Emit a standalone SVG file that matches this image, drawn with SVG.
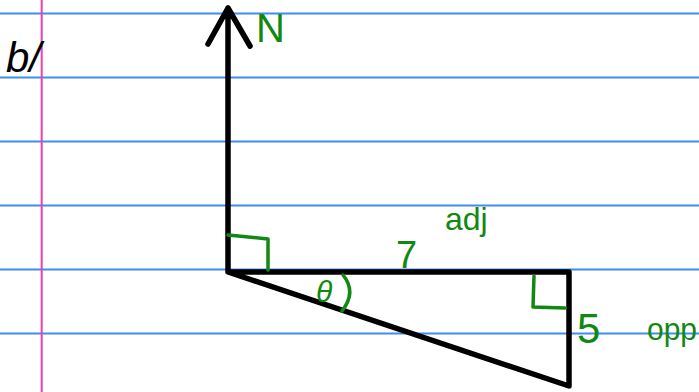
<svg xmlns="http://www.w3.org/2000/svg" width="699" height="392" viewBox="0 0 699 392">
<style>
.rule{stroke:#3d8ef0;stroke-width:2}
.ink{fill:none;stroke:#000;stroke-width:5.5;stroke-linecap:round;stroke-linejoin:round}
.gmark{fill:none;stroke:#118811;stroke-width:3.5;stroke-linecap:round;stroke-linejoin:round}
.g{fill:#118811;font-family:"Liberation Sans",sans-serif}
.k{fill:#000;font-family:"Liberation Sans",sans-serif}
</style>
<rect width="699" height="392" fill="#fff"/>
<g id="paper">
<line class="rule" x1="0" y1="13.5" x2="699" y2="13.5"/>
<line class="rule" x1="0" y1="77.5" x2="699" y2="77.5"/>
<line class="rule" x1="0" y1="141.5" x2="699" y2="141.5"/>
<line class="rule" x1="0" y1="205.5" x2="699" y2="205.5"/>
<line class="rule" x1="0" y1="269.5" x2="699" y2="269.5"/>
<line class="rule" x1="0" y1="333.5" x2="699" y2="333.5"/>
<line x1="41.7" y1="0" x2="41.7" y2="392" stroke="#f040b0" stroke-width="2"/>
</g>
<g id="label-b">
<text class="k" x="6" y="72" font-size="42" font-style="italic">b/</text>
</g>
<g id="connectors">
<path class="ink" d="M228,270 L228,8 M208,44 L228,8 L250,46"/>
<path class="ink" d="M228,272 L569,272 L569,386 L228,272 Z"/>
</g>
<g id="marks">
<path class="gmark" d="M228,235 L268,239 L268,270"/>
<path class="gmark" d="M534,276 L533,307 L565,308"/>
<path class="gmark" d="M343,275 Q357,292 342,311"/>
</g>
<g id="label-N"><text class="g" x="256" y="42" font-size="40">N</text></g>
<g id="label-7"><text class="g" x="396" y="268" font-size="38">7</text></g>
<g id="label-adj"><text class="g" x="445" y="230" font-size="32">adj</text></g>
<g id="label-theta"><text class="g" x="316" y="302" font-size="30" font-style="italic">θ</text></g>
<g id="label-5"><text class="g" x="577" y="343" font-size="42">5</text></g>
<g id="label-opp"><text class="g" x="647" y="340" font-size="32" textLength="50" lengthAdjust="spacingAndGlyphs">opp</text></g>
</svg>
